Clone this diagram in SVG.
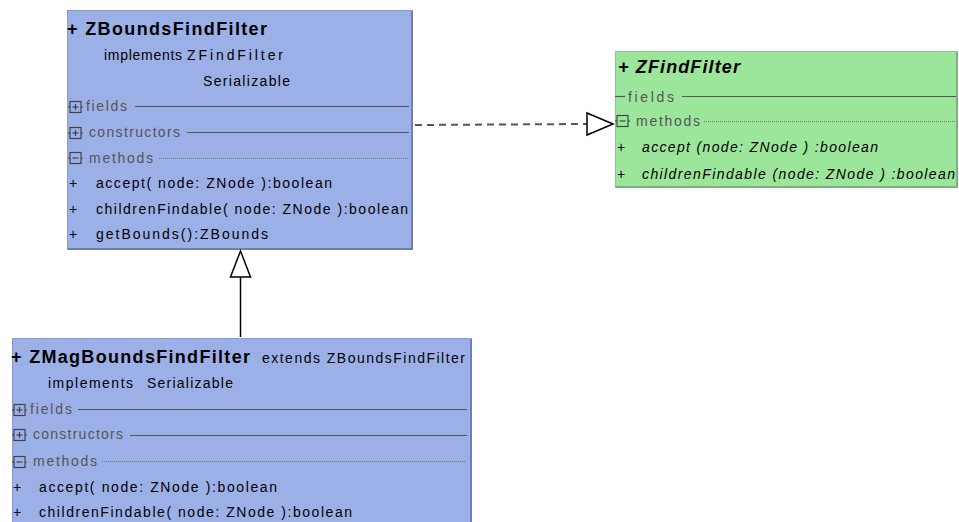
<svg xmlns="http://www.w3.org/2000/svg" width="959" height="522" viewBox="0 0 959 522">
<style>
.blue{fill:#9cb0e8;stroke:#8a9bd0;stroke-width:1}
.green{fill:#9ce69c;stroke:#86cc86;stroke-width:1}
.shb{stroke:#6f7fae;stroke-width:2;fill:none}
.shg{stroke:#7fb27f;stroke-width:2;fill:none}
.title{font-family:"Liberation Sans",Arial,sans-serif;font-size:18px;font-weight:bold;fill:#000}
.ititle{font-family:"Liberation Sans",Arial,sans-serif;font-size:18px;font-weight:bold;font-style:italic;fill:#000}
.t{font-family:"Liberation Sans",Arial,sans-serif;font-size:14px;fill:#000}
.it{font-family:"Liberation Sans",Arial,sans-serif;font-size:14px;font-style:italic;fill:#000}
.sec{font-family:"Liberation Sans",Arial,sans-serif;font-size:14px;fill:#555}
.sl{stroke:#555;stroke-width:1.2}
.dl{stroke:#777;stroke-width:1;stroke-dasharray:1 1}
.ic{fill:none;stroke:#444;stroke-width:1.2}
.conn{stroke:#000;stroke-width:1.5;fill:none}
.dash{stroke:#555;stroke-width:2;fill:none;stroke-dasharray:7 5}
.head{fill:#fff;stroke:#000;stroke-width:1.5}
</style>
<defs>
<g id="plus"><line class="ic" x1="-2" y1="0" x2="0" y2="0"/><rect class="ic" x="0" y="-5.5" width="11" height="11"/><line class="ic" x1="2.5" y1="0" x2="8.5" y2="0"/><line class="ic" x1="5.5" y1="-3" x2="5.5" y2="3"/><line class="ic" x1="11" y1="0" x2="13" y2="0"/></g>
<g id="minus"><line class="ic" x1="-2" y1="0" x2="0" y2="0"/><rect class="ic" x="0" y="-5.5" width="11" height="11"/><line class="ic" x1="2.5" y1="0" x2="8.5" y2="0"/><line class="ic" x1="11" y1="0" x2="13" y2="0"/></g>
</defs>

<g id="ZBoundsFindFilter">
<rect class="blue" x="67.5" y="10.5" width="345" height="239"/>
<polyline class="shb" points="412,11 412,249 68,249"/>
<text class="title" x="67" y="35" textLength="200" lengthAdjust="spacing">+ ZBoundsFindFilter</text>
<text class="t" x="104" y="60" textLength="78" lengthAdjust="spacing">implements</text>
<text class="t" x="187" y="60" textLength="96" lengthAdjust="spacing">ZFindFilter</text>
<text class="t" x="203" y="86" textLength="87" lengthAdjust="spacing">Serializable</text>
<use href="#plus" x="70" y="107"/>
<text class="sec" x="86" y="111" textLength="41" lengthAdjust="spacing">fields</text>
<line class="sl" x1="135" y1="106.5" x2="409" y2="106.5"/>
<use href="#plus" x="70" y="133"/>
<text class="sec" x="89" y="137" textLength="91" lengthAdjust="spacing">constructors</text>
<line class="sl" x1="187" y1="132.5" x2="409" y2="132.5"/>
<use href="#minus" x="70" y="158"/>
<text class="sec" x="89" y="163" textLength="64" lengthAdjust="spacing">methods</text>
<line class="dl" x1="159" y1="158.5" x2="409" y2="158.5"/>
<text class="t" x="69" y="188">+</text>
<text class="t" x="96" y="188" textLength="236" lengthAdjust="spacing">accept( node: ZNode ):boolean</text>
<text class="t" x="69" y="214">+</text>
<text class="t" x="96" y="214" textLength="312" lengthAdjust="spacing">childrenFindable( node: ZNode ):boolean</text>
<text class="t" x="69" y="239">+</text>
<text class="t" x="96" y="239" textLength="172" lengthAdjust="spacing">getBounds():ZBounds</text>
</g>

<g id="ZFindFilter">
<rect class="green" x="615.5" y="51.5" width="342" height="136"/>
<polyline class="shg" points="957,52 957,187 616,187"/>
<text class="ititle" x="618" y="73" textLength="122" lengthAdjust="spacing">+ ZFindFilter</text>
<line class="sl" x1="615" y1="96.5" x2="625" y2="96.5"/>
<text class="sec" x="628" y="102" textLength="46" lengthAdjust="spacing">fields</text>
<line class="sl" x1="682" y1="96.5" x2="956" y2="96.5"/>
<use href="#minus" x="617" y="121"/>
<text class="sec" x="636" y="126" textLength="64" lengthAdjust="spacing">methods</text>
<line class="dl" x1="704" y1="121.5" x2="956" y2="121.5"/>
<text class="t" x="617" y="152">+</text>
<text class="it" x="642" y="152" textLength="236" lengthAdjust="spacing">accept (node: ZNode ) :boolean</text>
<text class="t" x="617" y="179">+</text>
<text class="it" x="642" y="179" textLength="313" lengthAdjust="spacing">childrenFindable (node: ZNode ) :boolean</text>
</g>

<g id="ZMagBoundsFindFilter">
<rect class="blue" x="12.5" y="338.5" width="459" height="200"/>
<polyline class="shb" points="471,339 471,530"/>
<text class="title" x="11" y="363" textLength="239" lengthAdjust="spacing">+ ZMagBoundsFindFilter</text>
<text class="t" x="262" y="363" textLength="203" lengthAdjust="spacing">extends ZBoundsFindFilter</text>
<text class="t" x="48" y="388" textLength="85" lengthAdjust="spacing">implements</text>
<text class="t" x="147" y="388" textLength="86" lengthAdjust="spacing">Serializable</text>
<use href="#plus" x="14" y="410"/>
<text class="sec" x="30" y="414" textLength="42" lengthAdjust="spacing">fields</text>
<line class="sl" x1="78" y1="409.5" x2="467" y2="409.5"/>
<use href="#plus" x="14" y="435"/>
<text class="sec" x="33" y="439" textLength="90" lengthAdjust="spacing">constructors</text>
<line class="sl" x1="130" y1="435.5" x2="467" y2="435.5"/>
<use href="#minus" x="14" y="462"/>
<text class="sec" x="33" y="466" textLength="64" lengthAdjust="spacing">methods</text>
<line class="dl" x1="102" y1="461.5" x2="466" y2="461.5"/>
<text class="t" x="13" y="492">+</text>
<text class="t" x="39" y="492" textLength="238" lengthAdjust="spacing">accept( node: ZNode ):boolean</text>
<text class="t" x="13" y="517">+</text>
<text class="t" x="39" y="517" textLength="313" lengthAdjust="spacing">childrenFindable( node: ZNode ):boolean</text>
</g>

<g id="connectors">
<line class="conn" x1="240.5" y1="337" x2="240.5" y2="277"/>
<polygon class="head" points="240.5,251 230.5,277 250.5,277"/>
<line class="dash" x1="415" y1="125" x2="587" y2="124"/>
<polygon class="head" points="613,124 587,113 587,135"/>
</g>
</svg>
